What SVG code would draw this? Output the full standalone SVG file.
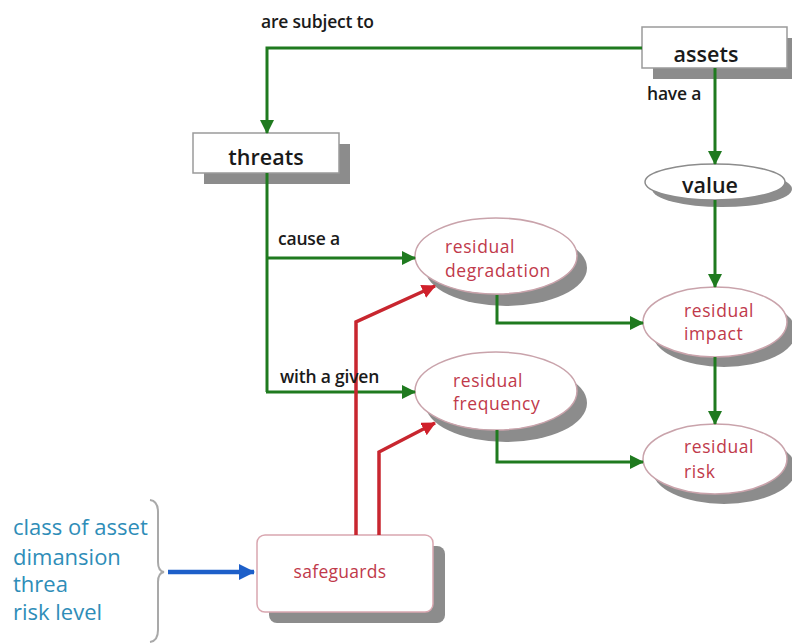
<svg xmlns="http://www.w3.org/2000/svg" width="792" height="643" viewBox="0 0 792 643">
  <defs>
    <style>
      .lbl { font-family: "Open Sans", "Liberation Sans", sans-serif; font-weight: 600; font-size: 17.5px; fill: #1a1a1a; letter-spacing: -0.2px; }
      .head { font-family: "Open Sans", "Liberation Sans", sans-serif; font-weight: 600; font-size: 21.5px; fill: #1a1a1a; text-anchor: middle; }
      .red { font-family: "Open Sans", "Liberation Sans", sans-serif; font-size: 17.5px; fill: #c0394a; letter-spacing: 0.6px; }
      .side { font-family: "Open Sans", "Liberation Sans", sans-serif; font-size: 22px; fill: #2e8db8; }
      .box { fill: #ffffff; stroke: #9a9a9a; stroke-width: 1.5; }
      .shadow { fill: #8c8c8c; }
      .oval { fill: #ffffff; stroke: #c9a3ab; stroke-width: 1.5; }
      .valoval { fill: #ffffff; stroke: #8c8c8c; stroke-width: 1.5; }
      .green { fill: none; stroke: #1f7a1f; stroke-width: 3; }
      .redline { fill: none; stroke: #c8262f; stroke-width: 3.5; }
      .blue { fill: none; stroke: #1d5fc9; stroke-width: 4.5; }
      .brace { fill: none; stroke: #a9a9a9; stroke-width: 2; }
    </style>
    <marker id="ag" markerUnits="userSpaceOnUse" markerWidth="14" markerHeight="14" viewBox="0 0 14 14" refX="13" refY="7" orient="auto">
      <path d="M0,0 L14,7 L0,14 Z" fill="#1f7a1f"/>
    </marker>
    <marker id="ar" markerUnits="userSpaceOnUse" markerWidth="14" markerHeight="14" viewBox="0 0 14 14" refX="13" refY="7" orient="auto">
      <path d="M0,0 L14,7 L0,14 Z" fill="#d0202b"/>
    </marker>
    <marker id="ab" markerUnits="userSpaceOnUse" markerWidth="16" markerHeight="16" viewBox="0 0 16 16" refX="15" refY="8" orient="auto">
      <path d="M0,0 L16,8 L0,16 Z" fill="#1d5fc9"/>
    </marker>
  </defs>

  <rect width="792" height="643" fill="#ffffff"/>

  <!-- nodes -->
  <g id="assets">
    <rect class="shadow" x="653" y="38" width="145" height="41"/>
    <rect class="box" x="642" y="27" width="145" height="41"/>
    <text class="head" x="706" y="62">assets</text>
  </g>

  <g id="threats">
    <rect class="shadow" x="204" y="144" width="146" height="40"/>
    <rect class="box" x="193" y="133" width="146" height="40"/>
    <text class="head" x="266" y="165">threats</text>
  </g>

  <g id="value">
    <ellipse class="shadow" cx="722" cy="189" rx="70" ry="18"/>
    <ellipse class="valoval" cx="715" cy="182" rx="70" ry="18"/>
    <text class="head" x="710" y="193">value</text>
  </g>

  <g id="residual-degradation">
    <ellipse class="shadow" cx="506" cy="268" rx="81" ry="38"/>
    <ellipse class="oval" cx="496" cy="256" rx="81" ry="38"/>
    <text class="red" x="445" y="253">residual</text>
    <text class="red" x="445" y="277">degradation</text>
  </g>

  <g id="residual-frequency">
    <ellipse class="shadow" cx="506" cy="403" rx="81" ry="39"/>
    <ellipse class="oval" cx="496" cy="391" rx="81" ry="39"/>
    <text class="red" x="453" y="387">residual</text>
    <text class="red" x="453" y="410">frequency</text>
  </g>

  <g id="residual-impact">
    <ellipse class="shadow" cx="724" cy="332" rx="72" ry="35"/>
    <ellipse class="oval" cx="715" cy="322" rx="72" ry="35"/>
    <text class="red" x="684" y="317">residual</text>
    <text class="red" x="684" y="340">impact</text>
  </g>

  <g id="residual-risk">
    <ellipse class="shadow" cx="724" cy="469" rx="72" ry="35"/>
    <ellipse class="oval" cx="715" cy="459" rx="72" ry="35"/>
    <text class="red" x="684" y="453">residual</text>
    <text class="red" x="684" y="478">risk</text>
  </g>

  <g id="safeguards">
    <rect class="shadow" x="269" y="546" width="176" height="77" rx="8"/>
    <rect class="box" x="257" y="535" width="176" height="77" rx="8" style="stroke:#d9a7b0"/>
    <text class="red" x="340" y="578" text-anchor="middle" style="letter-spacing:0.3px">safeguards</text>
  </g>

  <g id="criteria">
    <text class="side" x="13" y="535">class of asset</text>
    <text class="side" x="13" y="565">dimansion</text>
    <text class="side" x="13" y="592">threa</text>
    <text class="side" x="13" y="620">risk level</text>
    <path class="brace" d="M150,500 Q158,501 158,512 L158,562 Q158,571 164,572 Q158,573 158,582 L158,630 Q158,641 150,642"/>
  </g>

  <!-- connectors -->
  <g id="connectors">
    <path class="green" d="M642,48 L267,48 L267,133" marker-end="url(#ag)"/>
    <path class="green" d="M715,68 L715,164" marker-end="url(#ag)"/>
    <path class="green" d="M715,200 L715,287" marker-end="url(#ag)"/>
    <path class="green" d="M267,173 L267,392"/>
    <path class="green" d="M266,258 L415,258" marker-end="url(#ag)"/>
    <path class="green" d="M266,392 L415,392" marker-end="url(#ag)"/>
    <path class="green" d="M497,295 L497,323 L643,323" marker-end="url(#ag)"/>
    <path class="green" d="M497,430 L497,462 L643,462" marker-end="url(#ag)"/>
    <path class="green" d="M715,357 L715,424" marker-end="url(#ag)"/>
    <path class="redline" d="M356,535 L356,322 L435,286" marker-end="url(#ar)"/>
    <path class="redline" d="M379,535 L379,452 L435,423" marker-end="url(#ar)"/>
    <path class="blue" d="M168,572 L254,572" marker-end="url(#ab)"/>
    <text class="lbl" x="261" y="28">are subject to</text>
    <text class="lbl" x="647" y="100">have a</text>
    <text class="lbl" x="278" y="245">cause a</text>
    <text class="lbl" x="280" y="383">with a given</text>
  </g>
</svg>
